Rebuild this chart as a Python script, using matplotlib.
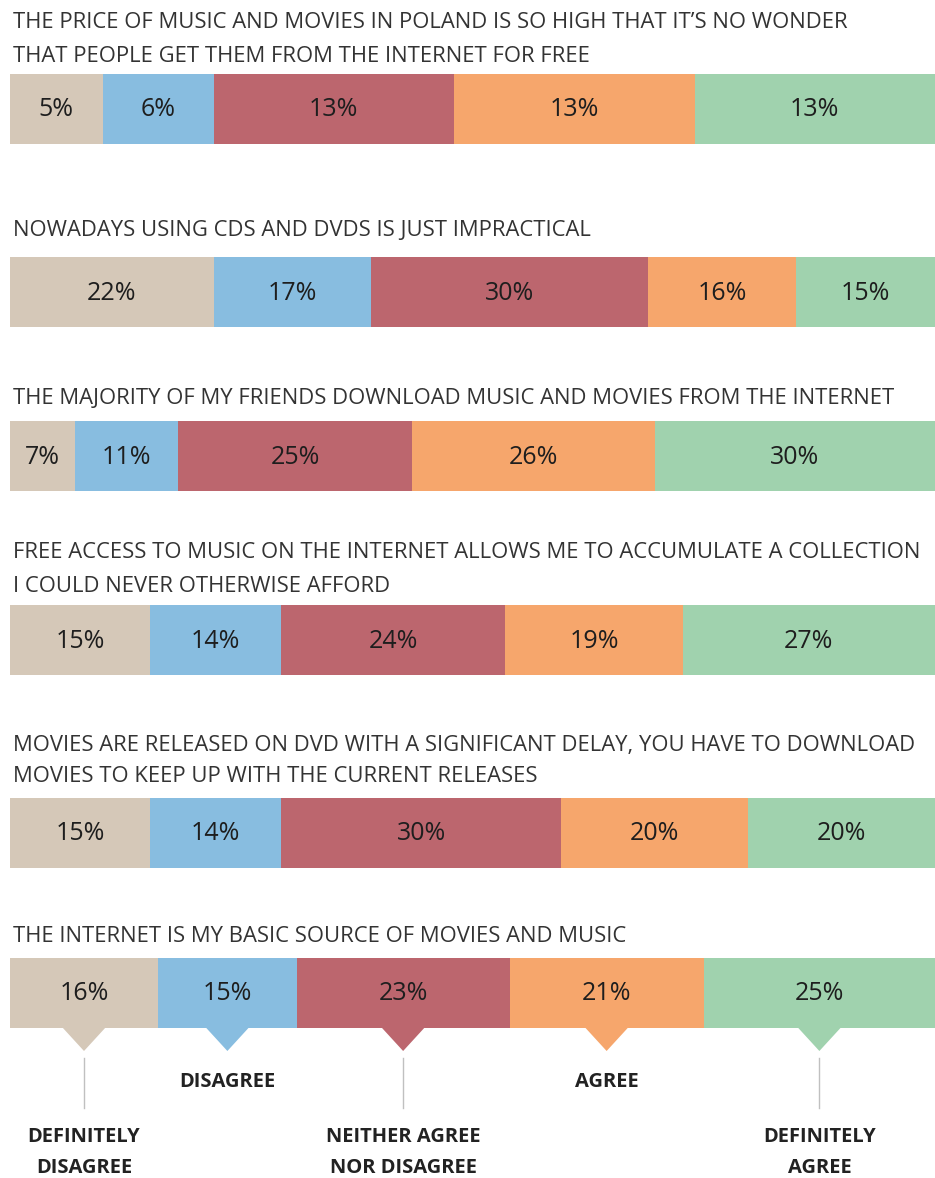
import matplotlib.pyplot as plt
import numpy as np

plt.rcParams['font.family'] = ['Open Sans', 'DejaVu Sans']

# statements (one list of printed lines per question)
statements = [
    ["THE PRICE OF MUSIC AND MOVIES IN POLAND IS SO HIGH THAT IT\u2019S NO WONDER",
     "THAT PEOPLE GET THEM FROM THE INTERNET FOR FREE"],
    ["NOWADAYS USING CDS AND DVDS IS JUST IMPRACTICAL"],
    ["THE MAJORITY OF MY FRIENDS DOWNLOAD MUSIC AND MOVIES FROM THE INTERNET"],
    ["FREE ACCESS TO MUSIC ON THE INTERNET ALLOWS ME TO ACCUMULATE A COLLECTION",
     "I COULD NEVER OTHERWISE AFFORD"],
    ["MOVIES ARE RELEASED ON DVD WITH A SIGNIFICANT DELAY, YOU HAVE TO DOWNLOAD",
     "MOVIES TO KEEP UP WITH THE CURRENT RELEASES"],
    ["THE INTERNET IS MY BASIC SOURCE OF MOVIES AND MUSIC"],
]

# answer shares in percent: definitely disagree .. definitely agree
price_too_high = [5, 6, 13, 13, 13]
discs_impractical = [22, 17, 30, 16, 15]
friends_download = [7, 11, 25, 26, 30]
free_collection = [15, 14, 24, 19, 27]
dvd_delay = [15, 14, 30, 20, 20]
internet_main_source = [16, 15, 23, 21, 25]

answers = [["DEFINITELY", "DISAGREE"], ["DISAGREE"], ["NEITHER AGREE", "NOR DISAGREE"],
           ["AGREE"], ["DEFINITELY", "AGREE"]]
colors = ["#d5c8b8", "#88bde0", "#bc666e", "#f6a66c", "#a0d2ae"]

rows = [price_too_high, discs_impractical, friends_download,
        free_collection, dvd_delay, internet_main_source]

# layout in pixels (figure is 935 x 1178)
W, H = 935, 1178
bar_top = [74, 257, 421, 605, 798, 958]
bar_h = 70
title_y = [[22, 56], [231], [398], [553, 587], [746, 777], [936]]

fig = plt.figure(figsize=(W / 100, H / 100), dpi=100)
ax = fig.add_axes([10 / W, 0, (W - 10) / W, 1])
ax.set_xlim(0, 100)
ax.set_ylim(H, 0)
ax.axis('off')
px = (W - 10) / 100.0  # pixels per percent


def x_of(p):
    return (p - 10) / px


for i, vals in enumerate(rows):
    vals = np.array(vals, dtype=float)
    share = vals / vals.sum() * 100
    left = np.concatenate([[0], np.cumsum(share)[:-1]])
    yc = bar_top[i] + bar_h / 2
    ax.barh(yc, share, left=left, height=bar_h, color=colors, edgecolor='none')
    for v, l, s in zip(vals, left, share):
        ax.text(l + s / 2, yc + 1, f"{int(v)}%", ha='center', va='center',
                fontsize=18, fontweight='medium', color='#1e1e1e')
    for line, ty in zip(statements[i], title_y[i]):
        ax.text(x_of(13), ty, line, ha='left', va='center', fontsize=15.8,
                color='#333333', clip_on=False)

# pointers and answer legend under the last bar
vals = np.array(internet_main_source, dtype=float)
share = vals / vals.sum() * 100
centers = np.cumsum(share) - share / 2
bottom = bar_top[-1] + bar_h
hw = 22 / px
for k, c in enumerate(centers):
    ax.fill([c - hw, c + hw, c], [bottom - 1, bottom - 1, bottom + 23],
            color=colors[k], lw=0)
    lines = answers[k]
    if len(lines) == 2:
        ax.plot([c, c], [1058, 1108], color='#c0c0c0', lw=1)
        for line, ty in zip(lines, [1137, 1168]):
            ax.text(c, ty, line, ha='center', va='center', fontsize=14.5,
                    fontweight='bold', color='#222222')
    else:
        ax.text(c, 1082, lines[0], ha='center', va='center', fontsize=14.5,
                fontweight='bold', color='#222222')

fig.savefig("out.png", dpi=100, facecolor='white')
